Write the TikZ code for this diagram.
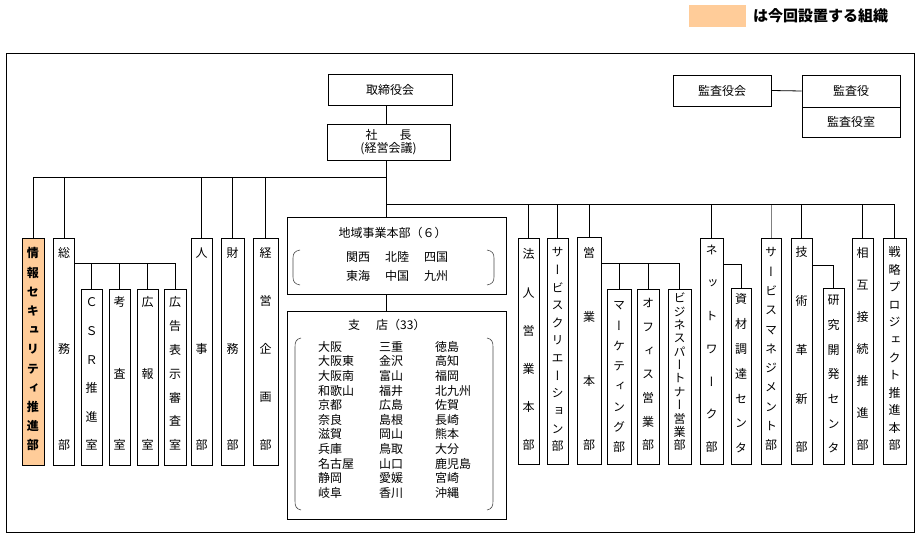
\documentclass[tikz,border=0pt]{standalone}
\usepackage{fontspec}
\newfontfamily\jp{Noto Sans CJK JP}
\newfontfamily\vjp[RawFeature=+vert]{Noto Sans CJK JP}
\definecolor{neworg}{RGB}{255,204,153}
\def\vtloop#1{\ifx#1\relax\else\hbox to 0pt{\hss\smash{\lower4.4pt\hbox{#1}}\hss}\vfill\expandafter\vtloop\fi}
\newcommand\vcol[4]{\vbox to #1{\offinterlineskip\vskip#2\relax\vtloop#4\relax\unskip\vskip#3\relax}}
\tikzset{
  box/.style={draw, line width=0.8pt, fill=white, inner sep=0pt, font=\jp\fontsize{12}{13}\selectfont},
  vb/.style={box, anchor=north, font=\vjp\fontsize{12}{13}\selectfont},
  newunit/.style={fill=neworg, font=\vjp\bfseries\fontsize{12}{13}\selectfont},
  ln/.style={line width=0.8pt},
  brk/.style={line width=0.6pt, black!70},
  txt/.style={inner sep=0pt, font=\jp\fontsize{12}{13}\selectfont},
}
\newcommand\vbx[9][]{\node[vb, minimum width=#6pt, #1] (#2) at (#3,#4) {\vcol{#5pt}{#7pt}{#8pt}{#9}};}
\begin{document}
\begin{tikzpicture}[x=1pt, y=-1pt]
\useasboundingbox (0,0) rectangle (921,535);
% legend
\node[fill=neworg, minimum width=57pt, minimum height=22pt, inner sep=0pt] (legbox) at (717.5,16) {};
\node[anchor=west, inner sep=0pt, font=\jp\bfseries\fontsize{15}{17}\selectfont] (legtext) at (753,16) {は今回設置する組織};
% frame
\draw[ln] (6,53) rectangle (914,532);
% top boxes
\node[box, minimum width=124pt, minimum height=31pt] (board) at (390,89.5) {取締役会};
\node[box, minimum width=123pt, minimum height=36pt, align=center] (pres) at (388.5,142) {社\hspace{22pt}長\\(経営会議)};
\node[box, minimum width=98pt, minimum height=31pt] (kaikai) at (722,90.5) {監査役会};
\node[box, minimum width=98pt, minimum height=32pt] (kansa) at (851,91) {監査役};
\node[box, minimum width=98pt, minimum height=30pt] (kshitsu) at (851,122) {監査役室};
\draw[ln] (kaikai.east) -- (kansa.west);
% center boxes
\node[box, minimum width=219pt, minimum height=77pt] (region) at (396.5,255.5) {};
\node[box, minimum width=219pt, minimum height=208pt] (branch) at (396.5,415) {};
\node[txt] (regiont) at (392.5,233) {地域事業本部（６）};
\node[txt] (regr1) at (397,257) {関西\hspace{15pt}北陸\hspace{15pt}四国};
\node[txt] (regr2) at (397,276) {東海\hspace{15pt}中国\hspace{15pt}九州};
\draw[brk] (300,250) .. controls (295,251) and (293,253) .. (293,258) -- (293,277) .. controls (293,282) and (295,284) .. (300,285);
\draw[brk] (487,250) .. controls (492,251) and (494,253) .. (494,258) -- (494,277) .. controls (494,282) and (492,284) .. (487,285);
\node[txt, anchor=west] (brt) at (348,325) {支\hspace{16pt}店（33）};
\draw[brk] (301,338) .. controls (296,339) and (295,342) .. (295,347) -- (295,501) .. controls (295,506) and (296,509) .. (301,510);
\draw[brk] (487,338) .. controls (492,339) and (493,342) .. (493,347) -- (493,501) .. controls (493,506) and (492,509) .. (487,510);
\node[txt, anchor=north west, align=left, font=\jp\fontsize{12}{14.6}\selectfont] (col1) at (318,341) {大阪\\大阪東\\大阪南\\和歌山\\京都\\奈良\\滋賀\\兵庫\\名古屋\\静岡\\岐阜};
\node[txt, anchor=north west, align=left, font=\jp\fontsize{12}{14.6}\selectfont] (col2) at (379,341) {三重\\金沢\\富山\\福井\\広島\\島根\\岡山\\鳥取\\山口\\愛媛\\香川};
\node[txt, anchor=north west, align=left, font=\jp\fontsize{12}{14.6}\selectfont] (col3) at (435,341) {徳島\\高知\\福岡\\北九州\\佐賀\\長崎\\熊本\\大分\\鹿児島\\宮崎\\沖縄};
% left vertical boxes
\vbx[newunit]{info}{33}{238}{227}{22}{15}{20}{情報セキュリティ推進部}
\vbx{soumu}{64}{238}{227}{21}{15}{20}{総務部}
\vbx{csr}{91.5}{289}{176}{21}{13}{20}{ＣＳＲ推進室}
\vbx{kousa}{119.5}{289}{176}{21}{13}{20}{考査室}
\vbx{kouhou}{147.5}{289}{176}{21}{13}{20}{広報室}
\vbx{koukoku}{175}{289}{176}{22}{13}{20}{広告表示審査室}
\vbx{jinji}{201.5}{238}{227}{21}{15}{20}{人事部}
\vbx{zaimu}{232.5}{238}{227}{23}{15}{20}{財務部}
\vbx{keiei}{265.5}{238}{227}{25}{15}{20}{経営企画部}
% right vertical boxes
\vbx{houjin}{528.5}{238}{226}{21}{16}{19}{法人営業本部}
\vbx{scre}{557.5}{238}{226}{21}{14}{18}{サービスクリエーション部}
\vbx{eigyo}{589}{237}{227}{24}{16}{19}{営業本部}
\vbx{marketing}{619}{289}{175}{24}{16}{17}{マーケティング部}
\vbx{office}{648}{289}{175}{22}{14}{19}{オフィス営業部}
\vbx{bizp}{679.5}{289}{175}{23}{9}{19}{ビジネスパートナー営業部}
\vbx{network}{711.5}{238}{226}{23}{12}{17}{ネットワーク部}
\vbx{shizai}{741}{288}{176}{20}{11}{16}{資材調達センタ}
\vbx{smgmt}{771}{238}{226}{20}{14}{19}{サービスマネジメント部}
\vbx{gijutsu}{801.5}{238}{226}{21}{14}{17}{技術革新部}
\vbx{kenkyu}{833.5}{288}{176}{21}{12}{16}{研究開発センタ}
\vbx{sougo}{862.5}{238}{226}{21}{15}{19}{相互接続推進部}
\vbx{senryaku}{894.5}{238}{226}{23}{14}{19}{戦略プロジェクト推進本部}
% connectors
\coordinate (trunk) at (386,0);
\coordinate (lbus) at (386,177);
\coordinate (rbus) at (386,204);
\draw[ln] (board.south -| trunk) -- (pres.north -| trunk);
\draw[ln] (pres.south -| trunk) -- (region.north -| trunk);
\draw[ln] (region.south -| trunk) -- (branch.north -| trunk);
\draw[ln, gray] (smgmt.north) -- (smgmt.north |- rbus);
\foreach \n in {info,soumu,jinji,zaimu,keiei} \draw[ln] (\n.north) |- (lbus);
\foreach \n in {houjin,scre,eigyo,network,gijutsu,sougo,senryaku} \draw[ln] (\n.north) |- (rbus);
\coordinate (sbus) at (soumu.east |- 0,263);
\foreach \n in {csr,kousa,kouhou,koukoku} \draw[ln] (\n.north) |- (sbus);
\coordinate (ebus) at (eigyo.east |- 0,263);
\foreach \n in {marketing,office,bizp} \draw[ln] (\n.north) |- (ebus);
\coordinate (nbus) at (network.east |- 0,264);
\draw[ln] (shizai.north) |- (nbus);
\coordinate (gbus) at (gijutsu.east |- 0,265);
\draw[ln] (kenkyu.north) |- (gbus);
\end{tikzpicture}
\end{document}
